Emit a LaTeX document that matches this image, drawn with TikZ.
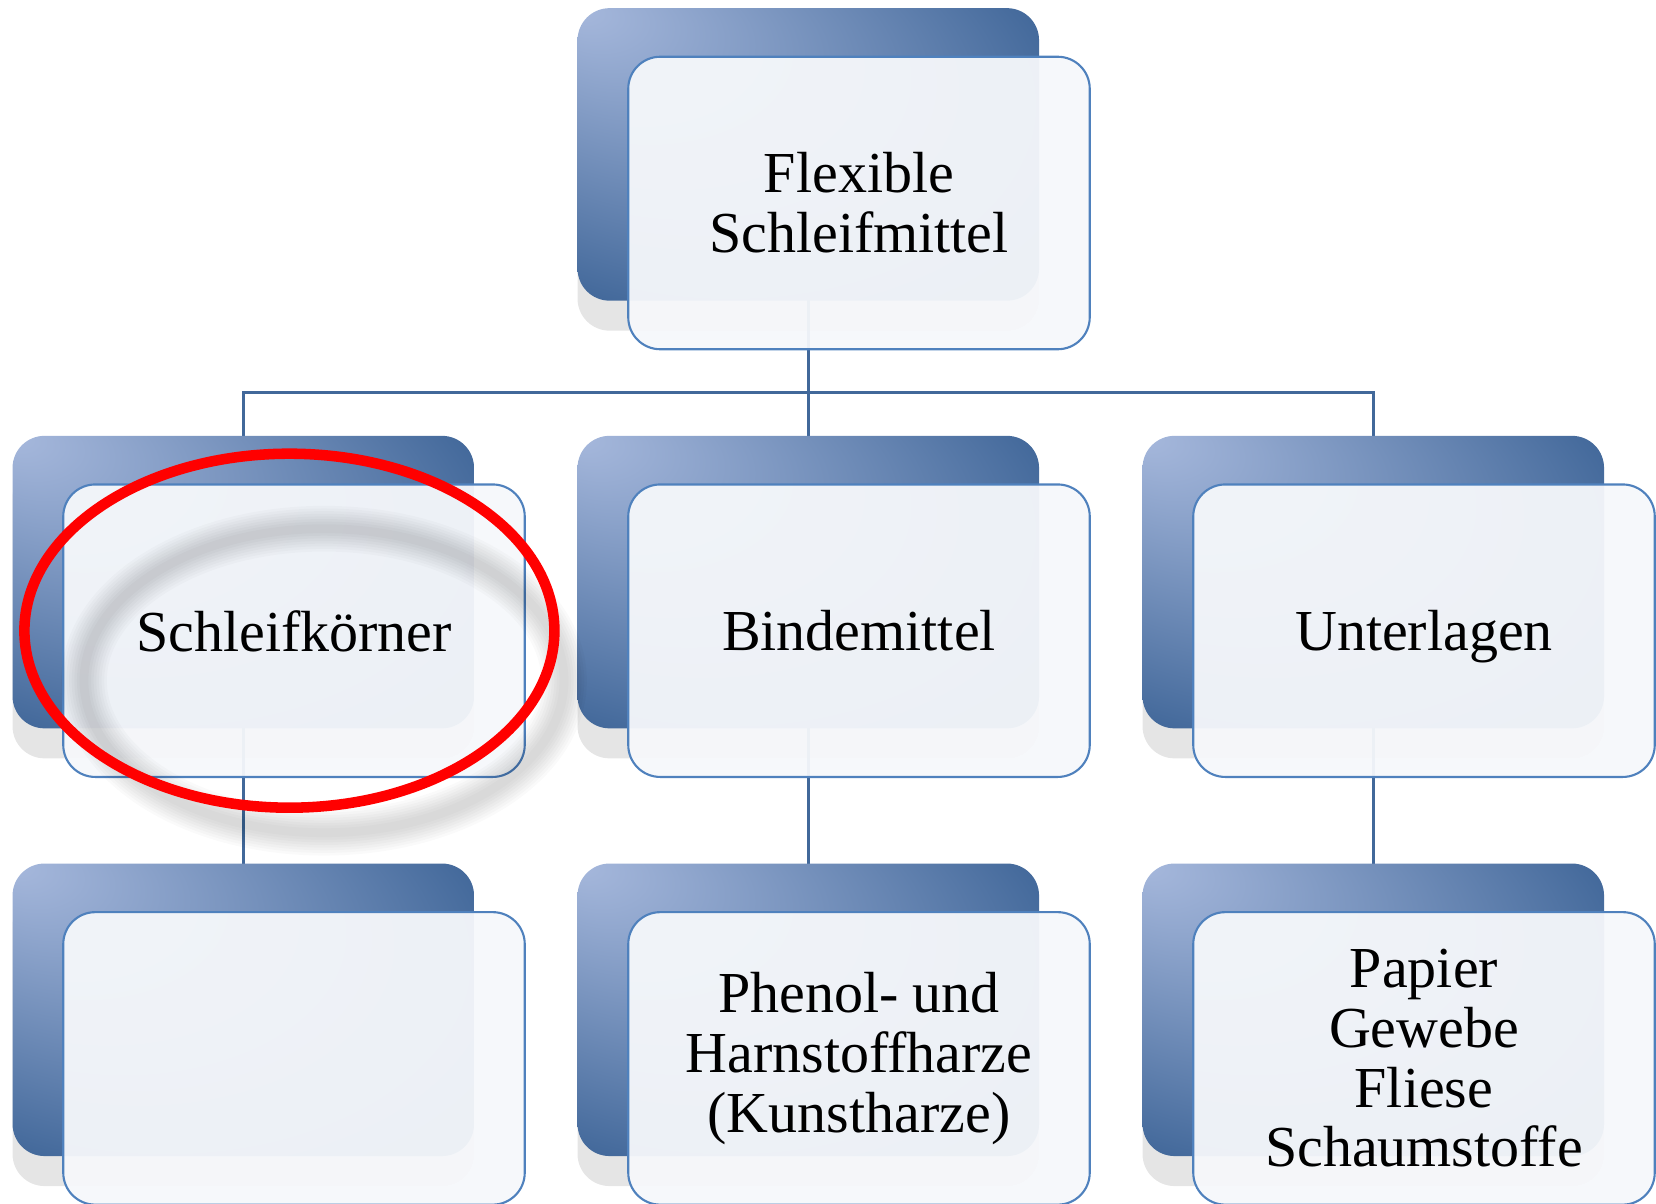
\documentclass[tikz,border=0pt]{standalone}
\usepackage{fontspec}
\setmainfont{Liberation Serif}
\usetikzlibrary{positioning,shadows}
\pgfdeclarelayer{bg}
\pgfsetlayers{bg,main}
\definecolor{boxlight}{RGB}{166,184,220}
\definecolor{boxdark}{RGB}{66,104,154}
\definecolor{boxline}{RGB}{79,129,189}
\definecolor{boxfill}{RGB}{246,248,251}
\definecolor{linkcol}{RGB}{65,104,154}
\pgfdeclareradialshading{backglow}{\pgfpoint{-25bp}{25bp}}{color(0bp)=(boxlight); color(36bp)=(boxdark); color(50bp)=(boxdark!85!black)}

\begin{document}
\begin{tikzpicture}[node distance=4.277cm and 5.65cm,on grid,
    back/.style={rounded corners=0.32cm,minimum width=4.615cm,minimum height=2.925cm,
        shading=backglow,
        drop shadow={shadow xshift=0cm,shadow yshift=-0.3cm,opacity=0.1,fill=black}},
    front/.style={draw=boxline,line width=0.6pt,fill=boxfill,fill opacity=0.95,text opacity=1,
        rounded corners=0.32cm,minimum width=4.615cm,minimum height=2.925cm,
        align=center,font=\fontsize{16.5}{17}\selectfont},
    single/.style={text depth=0pt},
    link/.style={draw=linkcol,line width=0.7pt},
    ring/.style={draw=red,line width=3pt}] 
    \useasboundingbox (0,0) rectangle (16.56,-12.04);
    % hintere Kaesten
    \node[back] (flex-b) at (8.083,-1.544) {};
    \node[back,below=of flex-b] (binde-b) {};
    \node[back,left=of binde-b] (korn-b) {};
    \node[back,right=of binde-b] (unter-b) {};
    \node[back,below=of korn-b] (leer-b) {};
    \node[back,below=of binde-b] (harz-b) {};
    \node[back,below=of unter-b] (traeger-b) {};
    % vordere Kaesten
    \node[front] (flex) at ([shift={(0.507,-0.486)}]flex-b) {Flexible\\Schleifmittel};
    \node[front,single] (korn) at ([shift={(0.507,-0.486)}]korn-b) {Schleifkörner};
    \node[front,single] (binde) at ([shift={(0.507,-0.486)}]binde-b) {Bindemittel};
    \node[front,single] (unter) at ([shift={(0.507,-0.486)}]unter-b) {Unterlagen};
    \node[front] (leer) at ([shift={(0.507,-0.486)}]leer-b) {};
    \node[front] (harz) at ([shift={(0.507,-0.486)}]harz-b) {Phenol- und\\Harnstoffharze\\(Kunstharze)};
    \node[front] (traeger) at ([shift={(0.507,-0.486)}]traeger-b) {Papier\\Gewebe\\Fliese\\Schaumstoffe};
    % Verbindungen
    \coordinate (bus) at (0,-3.925);
    \begin{pgfonlayer}{bg}
        \draw[link] (flex-b.center) -- (flex-b.center |- bus) -| (korn-b.center);
        \draw[link] (flex-b.center |- bus) -| (unter-b.center);
        \draw[link] (flex-b.center) -- (binde-b.center);
        \draw[link] (korn-b.center) -- (leer-b.center);
        \draw[link] (binde-b.center) -- (harz-b.center);
        \draw[link] (unter-b.center) -- (traeger-b.center);
    \end{pgfonlayer}
    % Markierung
    \foreach \w in {13,11.5,10,8.5,7,5.5,4,2.5}
        \draw[black,line width=\w pt,opacity=0.018] ([shift={(0.3,-0.5)}]korn.center) ellipse [x radius=2.4cm,y radius=1.52cm];
    \draw[ring] ([xshift=-0.046cm]korn.center) ellipse [x radius=2.65cm,y radius=1.77cm];
\end{tikzpicture}
\end{document}
